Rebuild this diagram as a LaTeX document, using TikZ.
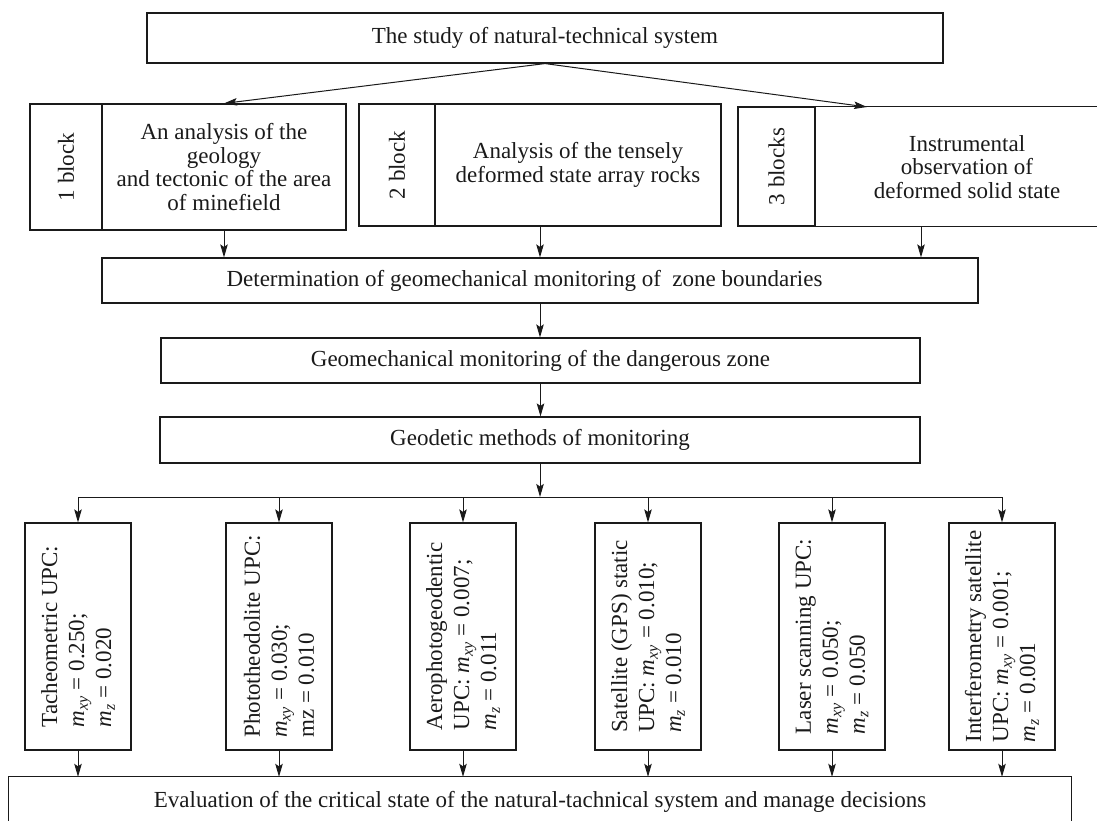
\documentclass[tikz,border=0pt]{standalone}
\usepackage{fontspec}
\usepackage{graphicx}
\setmainfont{Liberation Serif}
\usetikzlibrary{arrows.meta}
\definecolor{ink}{HTML}{1A1A1A}
\newcommand\mainfs{\fontsize{23}{23.5}\selectfont}
\newcommand\rotfs{\fontsize{23}{27}\selectfont}
\newcommand\mxy{\textit{m}\textsubscript{\textit{xy}}}
\newcommand\mzz{\textit{m}\textsubscript{\textit{z}}}
\tikzset{
  frame/.style={draw=ink, line width=1.15pt},
  box/.style={frame, inner sep=0pt, align=center, font=\mainfs, text=ink},
  conn/.style={draw=ink, line width=1pt},
  arr/.style={conn, -{Stealth[length=13pt,width=7.5pt,inset=2.5pt]}},
  rot/.style={rotate=90, align=left, font=\rotfs, inner sep=0pt, text=ink}
}
\begin{document}
\begin{tikzpicture}[x=1pt,y=-1pt]
\useasboundingbox (0,0) rectangle (1097,821);
% top
\node[box, minimum width=796, minimum height=50] (top) at (545,38) {The study of natural-technical system};
% block 1
\node[box, minimum width=72, minimum height=126] (b1l) at (66,167) {\rotatebox{90}{1 block}};
\node[box, minimum width=244, minimum height=126] (b1) at (224,167) {An analysis of the\\geology\\and tectonic of the area\\of minefield};
% block 2
\node[box, minimum width=76, minimum height=122] (b2l) at (397,165) {\rotatebox{90}{2 block}};
\node[box, minimum width=286, minimum height=122] (b2) at (578,165) {Analysis of the tensely\\deformed state array rocks};
% block 3 (cropped at the right edge)
\node[box, minimum width=77, minimum height=119] (b3l) at (776.5,166.5) {\rotatebox{90}{3 blocks}};
\node[font=\mainfs, align=center, text=ink, inner sep=0pt] (b3) at (967,167) {Instrumental\\observation of\\deformed solid state};
\draw[frame] (b3l.north east) -- ++(282,0);
\draw[frame] (b3l.south east) -- ++(282,0);
\coordinate (b3in) at (867,107);
\coordinate (b3out) at (921,226);
% arrows from top
\draw[arr] (top.south) -- (b1.north);
\draw[arr] (top.south) -- (b3in);
% determination
\node[box, minimum width=876, minimum height=45] (det) at (540,280.5) {Determination of geomechanical monitoring of\ \ zone boundaries\hspace*{31pt}};
\draw[arr] (b1.south) -- (b1.south |- det.north);
\draw[arr] (det.north |- b2.south) -- (det.north);
\draw[arr] (b3out) -- (b3out |- det.north);
% monitoring chain
\node[box, minimum width=759, minimum height=45] (geo) at (540.5,360.5) {Geomechanical monitoring of the dangerous zone};
\node[box, minimum width=760, minimum height=46] (geod) at (540,440) {Geodetic methods of monitoring};
\draw[arr] (det.south) -- (det.south |- geo.north);
\draw[arr] (geo.south) -- (geo.south |- geod.north);
\coordinate (junc) at (540,497);
\draw[arr] (geod.south) -- (junc);
% method boxes
\foreach \i/\x in {1/78,2/279,3/463,4/648,5/832,6/1002}
  \node[box, minimum width=106, minimum height=227] (m\i) at (\x,636.5) {};
\node[rot] (t1) at (m1) {Tacheometric UPC:\\\mxy{} = 0.250;\\\mzz{} = 0.020};
\node[rot] (t2) at (m2) {Phototheodolite UPC:\\\mxy{} = 0.030;\\mz = 0.010};
\node[rot] (t3) at (m3) {Aerophotogeodentic\\UPC: \mxy{} = 0.007;\\\mzz{} = 0.011};
\node[rot] (t4) at (m4) {Satellite (GPS) static\\UPC: \mxy{} = 0.010;\\\mzz{} = 0.010};
\node[rot] (t5) at (m5) {Laser scanning UPC:\\\mxy{} = 0.050;\\\mzz{} = 0.050};
\node[rot] (t6) at (m6) {Interferometry satellite\\UPC: \mxy{} = 0.001;\\\mzz{} = 0.001};
\draw[conn] (m1.north |- junc) -- (m6.north |- junc);
\foreach \i in {1,...,6}
  \draw[arr] (m\i.north |- junc) -- (m\i.north);
% evaluation (cropped at the bottom edge)
\node[font=\mainfs, text=ink, minimum width=1062, minimum height=44, inner sep=0pt, text height=21pt, text depth=5pt] (ev) at (540,799) {Evaluation of the critical state of the natural-tachnical system and manage decisions};
\draw[frame] (ev.south west) -- (ev.north west) -- (ev.north east) -- (ev.south east);
\foreach \i in {1,...,6}
  \draw[arr] (m\i.south) -- (m\i.south |- ev.north);
\end{tikzpicture}
\end{document}
